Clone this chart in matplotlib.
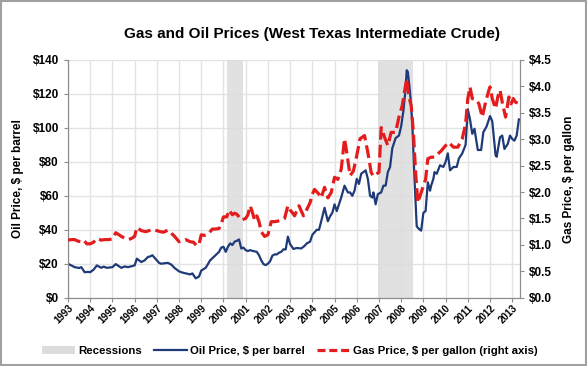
import matplotlib.pyplot as plt
from matplotlib.patches import Rectangle, Patch
from matplotlib.lines import Line2D
from matplotlib.ticker import FuncFormatter, MultipleLocator

plt.rcParams['font.family'] = ['Liberation Sans', 'DejaVu Sans']

# Oil price, $ per barrel (x = position on the year axis)
oil_x = [1993.0, 1993.15, 1993.3, 1993.5, 1993.6, 1993.75, 1993.9, 1994.0, 1994.15, 1994.3,
         1994.5, 1994.6, 1994.75, 1995.0, 1995.15, 1995.3, 1995.4, 1995.55, 1995.7, 1995.85,
         1996.0, 1996.1, 1996.3, 1996.45, 1996.6, 1996.7, 1996.8, 1997.0, 1997.1, 1997.2,
         1997.35, 1997.5, 1997.65, 1997.8, 1998.0, 1998.15, 1998.3, 1998.5, 1998.6, 1998.75,
         1998.9, 1999.0, 1999.2, 1999.4, 1999.6, 1999.8, 1999.9, 2000.0, 2000.1, 2000.2,
         2000.3, 2000.4, 2000.5, 2000.6, 2000.7, 2000.8, 2000.9, 2001.0, 2001.1, 2001.2,
         2001.3, 2001.5, 2001.6, 2001.7, 2001.8, 2001.9, 2002.0, 2002.1, 2002.2, 2002.3,
         2002.4, 2002.5, 2002.6, 2002.7, 2002.8, 2002.9, 2003.0, 2003.15, 2003.3, 2003.5,
         2003.65, 2003.75, 2003.9, 2004.0, 2004.2, 2004.3, 2004.4, 2004.55, 2004.7, 2004.8,
         2004.9, 2005.0, 2005.1, 2005.2, 2005.3, 2005.45, 2005.6, 2005.7, 2005.8, 2005.9,
         2006.0, 2006.1, 2006.2, 2006.3, 2006.4, 2006.5, 2006.6, 2006.7, 2006.75, 2006.85,
         2006.95, 2007.1, 2007.2, 2007.3, 2007.4, 2007.5, 2007.6, 2007.75, 2007.9, 2008.0,
         2008.1, 2008.2, 2008.25, 2008.3, 2008.4, 2008.5, 2008.6, 2008.7, 2008.8, 2008.9,
         2009.0, 2009.1, 2009.2, 2009.3, 2009.35, 2009.45, 2009.5, 2009.6, 2009.75, 2009.9,
         2010.0, 2010.1, 2010.2, 2010.35, 2010.5, 2010.6, 2010.75, 2010.9, 2011.0, 2011.1,
         2011.2, 2011.3, 2011.45, 2011.6, 2011.7, 2011.85, 2012.0, 2012.1, 2012.25, 2012.3,
         2012.45, 2012.55, 2012.65, 2012.8, 2012.9, 2013.0, 2013.1, 2013.2, 2013.3]
oil_price = [20, 19, 18, 17.5, 18, 15, 15.2, 15, 16.5, 19,
             17.6, 18.3, 17.6, 18, 19.8, 18.5, 17.6, 18.4, 18, 18.5,
             19, 23, 21, 22, 24, 24.3, 25, 22, 20.5, 20,
             20.3, 20.5, 19.5, 17.5, 15.5, 14.8, 14.3, 13.7, 14.3, 11.4,
             12.5, 16, 17.6, 22, 24.5, 27, 29.5, 30, 27, 30,
             32, 31, 33, 33.5, 34.3, 29, 29.5, 28, 27.5, 28,
             27.6, 27, 25, 22, 19.8, 19.2, 20, 21.5, 24.7, 25.5,
             25.5, 26.5, 27, 28.5, 28.4, 36, 31.5, 28.7, 29.3, 29,
             30.5, 32, 33, 37, 40, 40, 45, 53, 45, 48,
             50, 55, 51, 55, 59, 66, 62, 62, 60, 63,
             70, 67, 73, 74, 75, 70, 60, 59, 62, 55,
             61, 62, 66, 66, 74, 77, 88, 94, 95.5, 101,
             110, 123, 134, 133, 121, 103, 70, 42, 40.5, 39.5,
             50, 51, 68, 63, 66, 70, 74, 73, 78, 77,
             80, 85, 75, 77, 77, 82, 85, 90, 111, 105,
             96.5, 99.5, 87, 87, 97.5, 101, 107, 104, 84, 83,
             94.5, 95.5, 87.6, 90.6, 95.5, 93.5, 92.5, 95.5, 105]

# Gas price, $ per gallon
gas_x = [1993.0, 1993.15, 1993.3, 1993.45, 1993.6, 1993.7, 1993.85, 1994.0, 1994.15, 1994.3,
         1994.5, 1994.65, 1994.8, 1995.0, 1995.15, 1995.3, 1995.4, 1995.55, 1995.7, 1995.85,
         1996.0, 1996.1, 1996.2, 1996.3, 1996.5, 1996.65, 1996.8, 1997.0, 1997.15, 1997.3,
         1997.5, 1997.65, 1997.8, 1998.0, 1998.15, 1998.3, 1998.5, 1998.65, 1998.8, 1998.9,
         1999.0, 1999.15, 1999.3, 1999.5, 1999.65, 1999.8, 1999.9, 2000.0, 2000.15, 2000.25,
         2000.4, 2000.5, 2000.6, 2000.7, 2000.8, 2001.0, 2001.1, 2001.2, 2001.3, 2001.4,
         2001.5, 2001.6, 2001.7, 2001.85, 2002.0, 2002.15, 2002.3, 2002.45, 2002.6, 2002.75,
         2002.9, 2003.0, 2003.1, 2003.2, 2003.4, 2003.6, 2003.75, 2003.9, 2004.0, 2004.1,
         2004.3, 2004.4, 2004.55, 2004.7, 2004.85, 2005.0, 2005.15, 2005.3, 2005.45, 2005.55,
         2005.7, 2005.85, 2006.0, 2006.15, 2006.35, 2006.5, 2006.65, 2006.75, 2006.85, 2007.0,
         2007.1, 2007.25, 2007.4, 2007.55, 2007.75, 2007.9, 2008.05, 2008.2, 2008.25, 2008.35,
         2008.45, 2008.55, 2008.65, 2008.75, 2008.85, 2009.0, 2009.1, 2009.2, 2009.35, 2009.5,
         2009.65, 2009.8, 2010.0, 2010.15, 2010.35, 2010.55, 2010.75, 2010.9, 2011.0, 2011.1,
         2011.2, 2011.4, 2011.5, 2011.65, 2011.8, 2011.95, 2012.0, 2012.1, 2012.25, 2012.35,
         2012.45, 2012.55, 2012.7, 2012.85, 2012.95, 2013.05, 2013.15, 2013.3]
gas_price = [1.09, 1.10, 1.10, 1.07, 1.06, 1.09, 1.02, 1.02, 1.05, 1.12,
             1.09, 1.10, 1.10, 1.11, 1.23, 1.19, 1.16, 1.13, 1.10, 1.12,
             1.16, 1.33, 1.30, 1.27, 1.25, 1.27, 1.29, 1.27, 1.25, 1.24,
             1.28, 1.22, 1.16, 1.06, 1.08, 1.10, 1.06, 1.05, 0.98, 1.02,
             1.19, 1.18, 1.20, 1.30, 1.30, 1.31, 1.40, 1.53, 1.53, 1.66,
             1.57, 1.60, 1.58, 1.53, 1.47, 1.50, 1.57, 1.74, 1.62, 1.47,
             1.55, 1.44, 1.25, 1.16, 1.19, 1.44, 1.44, 1.45, 1.47, 1.50,
             1.74, 1.66, 1.61, 1.55, 1.74, 1.55, 1.67, 1.80, 1.96, 2.05,
             1.96, 1.89, 2.09, 1.89, 1.99, 2.28, 2.24, 2.43, 3.01, 2.75,
             2.31, 2.40, 2.69, 3.01, 3.07, 2.75, 2.37, 2.30, 2.34, 2.37,
             3.22, 3.04, 2.88, 3.13, 3.13, 3.42, 3.64, 4.02, 4.15, 3.80,
             3.64, 3.13, 2.37, 1.80, 1.93, 2.12, 2.24, 2.63, 2.66, 2.66,
             2.72, 2.78, 2.88, 2.94, 2.85, 2.85, 3.01, 3.29, 3.77, 3.99,
             3.77, 3.74, 3.67, 3.42, 3.70, 3.93, 3.99, 3.77, 3.58, 3.80,
             3.93, 3.70, 3.42, 3.80, 3.67, 3.77, 3.70, 3.68]

recessions = [(2000.17, 2000.9), (2006.94, 2008.54)]
years = list(range(1993, 2014))

oil_color = '#1f3a78'
gas_color = '#e31d1d'
grid_color = '#e3e3e3'

fig = plt.figure(figsize=(5.87, 3.66), dpi=100)
ax = fig.add_axes([68 / 587, 1 - 297.7 / 366, (520 - 68) / 587, (297.7 - 60) / 366])
ax2 = ax.twinx()

for start, end in recessions:
    ax.axvspan(start, end, color='#dcdcdc', alpha=0.85, lw=0, zorder=1)

ax.plot(oil_x, oil_price, color=oil_color, lw=1.6, zorder=3)
ax2.plot(gas_x, gas_price, color=gas_color, lw=2.3, dashes=(4, 1.6), zorder=3)

ax.set_xlim(1993, 2013.35)
ax.set_ylim(0, 140)
ax2.set_ylim(0, 4.5)
ax.yaxis.set_major_locator(MultipleLocator(20))
ax2.yaxis.set_major_locator(MultipleLocator(0.5))
ax.yaxis.set_major_formatter(FuncFormatter(lambda v, p: f'${v:.0f}'))
ax2.yaxis.set_major_formatter(FuncFormatter(lambda v, p: f'${v:.1f}'))

ax.set_xticks(years)
ax.set_xticklabels([str(y) for y in years], rotation=45, ha='right',
                   rotation_mode='anchor', fontsize=7, fontweight='bold')
ax.grid(True, color=grid_color, lw=1, zorder=0)
ax.set_axisbelow(True)

for a in (ax, ax2):
    for s in a.spines.values():
        s.set_color('#8c8c8c')
    a.spines['top'].set_visible(False)
    a.tick_params(colors='#8c8c8c', labelcolor='black', length=3, width=0.8)
    for lab in a.get_yticklabels():
        lab.set_fontweight('bold')
        lab.set_fontsize(8.5)
ax.tick_params(axis='x', pad=1)

ax.set_ylabel('Oil Price, $ per barrel', fontsize=8.5, fontweight='bold', labelpad=6)
ax2.set_ylabel('Gas Price, $ per gallon', fontsize=8.5, fontweight='bold', labelpad=8)

fig.text(0.532, 0.907, 'Gas and Oil Prices (West Texas Intermediate Crude)',
         ha='center', va='center', fontsize=11, fontweight='bold')

handles = [Patch(facecolor='#dcdcdc', edgecolor='none'),
           Line2D([], [], color=oil_color, lw=1.6),
           Line2D([], [], color=gas_color, lw=2.3, dashes=(2.5, 1.2))]
labels = ['Recessions', 'Oil Price, $ per barrel', 'Gas Price, $ per gallon (right axis)']
leg = fig.legend(handles, labels, loc='center', bbox_to_anchor=(0.494, 0.042), ncol=3,
                 frameon=False, fontsize=8.2, handlelength=2.9, columnspacing=1.1,
                 handletextpad=0.25)
for t in leg.get_texts():
    t.set_fontweight('bold')

fig.patches.append(Rectangle((0.002, 0.003), 0.996, 0.994, transform=fig.transFigure,
                             fill=False, edgecolor='#a0a0a0', lw=1.5))

fig.savefig('out.png', dpi=100)
